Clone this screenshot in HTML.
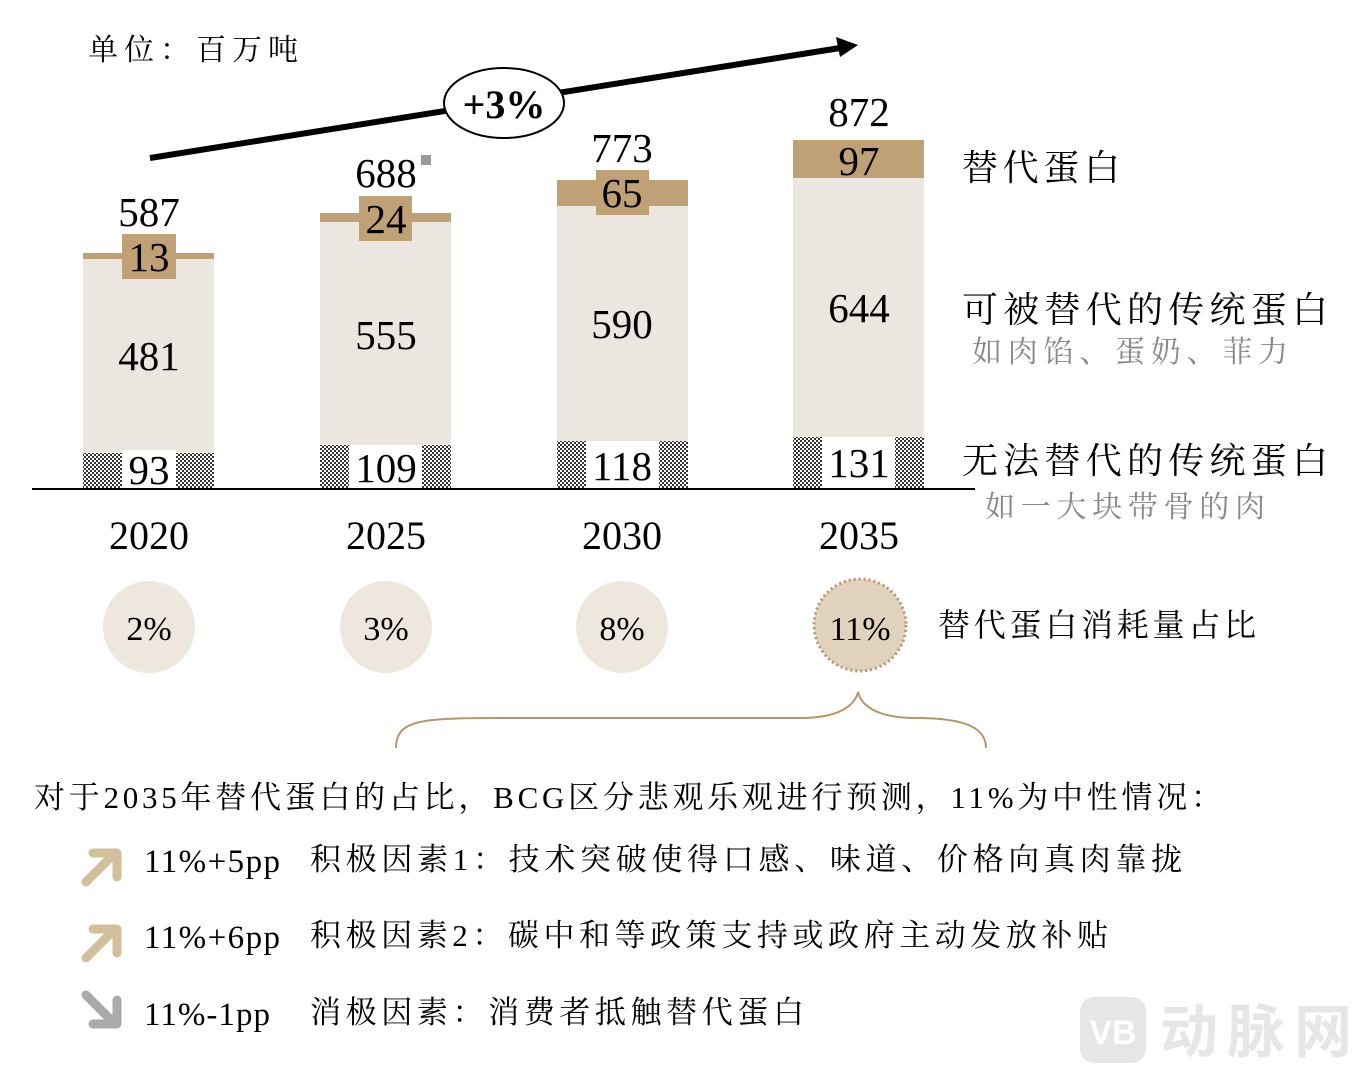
<!DOCTYPE html>
<html><head><meta charset="utf-8"><style>
html,body{margin:0;padding:0;background:#fff;}
svg{display:block}
.n{font-family:"Liberation Serif","DejaVu Serif",serif;fill:#000}
.c{font-family:"Liberation Serif","Noto Serif CJK SC",serif;fill:#000}
.g{fill:#888}
</style></head><body>
<svg width="1360" height="1074" viewBox="0 0 1360 1074" xmlns="http://www.w3.org/2000/svg">
<defs>
<pattern id="ck" width="4" height="4" patternUnits="userSpaceOnUse">
<rect width="4" height="4" fill="#fff"/><rect width="2" height="2" fill="#333"/><rect x="2" y="2" width="2" height="2" fill="#333"/>
</pattern>
</defs>
<text x="88" y="60" class="c" font-size="30" textLength="210">单位：百万吨</text>

<line x1="150" y1="158" x2="840" y2="48" stroke="#000" stroke-width="6"/>
<polygon points="858,45 836,37 840,57" fill="#000"/>
<ellipse cx="504" cy="103" rx="60" ry="35" fill="#fff" stroke="#000" stroke-width="2"/>
<text x="504" y="118" class="n" font-size="40" font-weight="bold" text-anchor="middle">+3%</text>

<g class="n" font-size="41" text-anchor="middle">
<!-- 2020 -->
<rect x="83" y="258" width="131" height="195" fill="#ebe6e0"/>
<rect x="83" y="453" width="131" height="35" fill="url(#ck)"/>
<rect x="122" y="450" width="54" height="38" fill="#fff"/>
<rect x="83" y="253" width="131" height="6" fill="#c0a075"/>
<rect x="122" y="234" width="54" height="45" fill="#c0a075"/>
<text x="149" y="271">13</text>
<text x="149" y="226">587</text>
<text x="149" y="370">481</text>
<text x="149" y="484">93</text>

<!-- 2025 -->
<rect x="320" y="220" width="131" height="225" fill="#ebe6e0"/>
<rect x="320" y="445" width="131" height="43" fill="url(#ck)"/>
<rect x="349" y="445" width="73" height="43" fill="#fff"/>
<rect x="320" y="213" width="131" height="9" fill="#c0a075"/>
<rect x="359" y="196" width="53" height="45" fill="#c0a075"/>
<text x="386" y="233">24</text>
<text x="386" y="187">688</text>
<text x="386" y="349">555</text>
<text x="386" y="482">109</text>

<!-- 2030 -->
<rect x="557" y="206" width="131" height="235" fill="#ebe6e0"/>
<rect x="557" y="441" width="131" height="47" fill="url(#ck)"/>
<rect x="586" y="441" width="73" height="47" fill="#fff"/>
<rect x="557" y="180" width="131" height="26" fill="#c0a075"/>
<rect x="596" y="170" width="53" height="45" fill="#c0a075"/>
<text x="622" y="207">65</text>
<text x="622" y="162">773</text>
<text x="622" y="338">590</text>
<text x="622" y="480">118</text>

<!-- 2035 -->
<rect x="793" y="178" width="131" height="259" fill="#ebe6e0"/>
<rect x="793" y="437" width="131" height="51" fill="url(#ck)"/>
<rect x="822" y="437" width="73" height="51" fill="#fff"/>
<rect x="793" y="140" width="131" height="38" fill="#c0a075"/>
<text x="859" y="175">97</text>
<text x="859" y="126">872</text>
<text x="859" y="322">644</text>
<text x="859" y="477">131</text>
</g>
<rect x="421" y="155" width="10" height="10" fill="#999"/>

<line x1="32" y1="489" x2="975" y2="489" stroke="#000" stroke-width="2"/>

<g class="n" font-size="40" text-anchor="middle">
<text x="149" y="549">2020</text><text x="386" y="549">2025</text><text x="622" y="549">2030</text><text x="859" y="549">2035</text>
</g>

<text x="962" y="180" class="c" font-size="36" textLength="158">替代蛋白</text>
<text x="962" y="322" class="c" font-size="36" textLength="366">可被替代的传统蛋白</text>
<text x="972" y="362" class="c g" font-size="30" textLength="316">如肉馅、蛋奶、菲力</text>
<text x="962" y="473" class="c" font-size="36" textLength="366">无法替代的传统蛋白</text>
<text x="985" y="517" class="c g" font-size="30" textLength="280">如一大块带骨的肉</text>

<circle cx="149" cy="627" r="46" fill="#ede7dd"/>
<circle cx="386" cy="627" r="46" fill="#ede7dd"/>
<circle cx="622" cy="627" r="46" fill="#ede7dd"/>
<circle cx="860" cy="625" r="46" fill="#e0d2bc" stroke="#b8956a" stroke-width="3" stroke-dasharray="2,3"/>
<g class="n" font-size="34" text-anchor="middle">
<text x="149" y="640">2%</text><text x="386" y="640">3%</text><text x="622" y="640">8%</text><text x="860" y="640">11%</text>
</g>
<text x="938" y="636" class="c" font-size="32" textLength="318">替代蛋白消耗量占比</text>

<path d="M396,748 C396,720 420,718 500,718 L800,718 C840,718 855,705 858,692 C861,705 876,718 916,718 C970,718 986,730 986,748" fill="none" stroke="#b8956a" stroke-width="2"/>

<text x="34" y="808" class="c" font-size="31" textLength="1188">对于2035年替代蛋白的占比，BCG区分悲观乐观进行预测，11%为中性情况：</text>

<g stroke-linecap="round" stroke-linejoin="round">
<path d="M86,882 L114,854" stroke="#d4bf9b" stroke-width="9" fill="none"/>
<path d="M93,853 L117,853 L117,877" stroke="#d4bf9b" stroke-width="9" fill="none"/>
<path d="M86,958 L114,930" stroke="#d4bf9b" stroke-width="9" fill="none"/>
<path d="M93,929 L117,929 L117,953" stroke="#d4bf9b" stroke-width="9" fill="none"/>
<path d="M86,995 L114,1023" stroke="#aaa" stroke-width="9" fill="none"/>
<path d="M93,1024 L117,1024 L117,1000" stroke="#aaa" stroke-width="9" fill="none"/>
</g>
<text x="144" y="872" class="n" font-size="33" textLength="136">11%+5pp</text>
<text x="144" y="948" class="n" font-size="33" textLength="136">11%+6pp</text>
<text x="144" y="1025" class="n" font-size="33" textLength="126">11%-1pp</text>
<text x="310" y="870" class="c" font-size="31" textLength="872">积极因素1：技术突破使得口感、味道、价格向真肉靠拢</text>
<text x="310" y="946" class="c" font-size="31" textLength="798">积极因素2：碳中和等政策支持或政府主动发放补贴</text>
<text x="310" y="1023" class="c" font-size="31" textLength="494">消极因素：消费者抵触替代蛋白</text>

<rect x="1080" y="997" width="66" height="66" rx="14" fill="#e6e6e6"/>
<text x="1113" y="1044" font-family="Liberation Sans,sans-serif" font-weight="bold" font-size="34" fill="#fff" text-anchor="middle">VB</text>
<text x="1160" y="1052" font-family="Liberation Sans,'Noto Sans CJK SC',sans-serif" font-weight="bold" font-size="58" fill="#e6e6e6" textLength="192">动脉网</text>
</svg>
</body></html>
